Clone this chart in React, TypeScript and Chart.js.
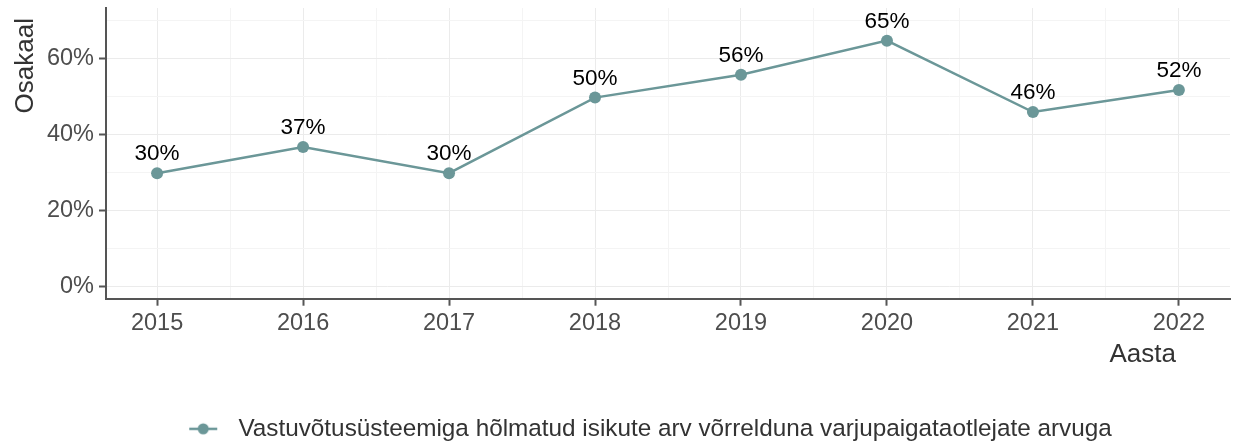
import React, { useEffect, useRef } from 'react';
import { Chart, registerables } from 'chart.js';

Chart.register(...registerables);

const years = [2015, 2016, 2017, 2018, 2019, 2020, 2021, 2022];
const shares = [29.9, 36.8, 29.9, 49.8, 55.8, 64.8, 46.0, 51.8];
const yGridValues = [0, 10, 20, 30, 40, 50, 60, 70];
const yLabelValues = [0, 20, 40, 60];
const seriesLabel = 'Vastuvõtusüsteemiga hõlmatud isikute arv võrrelduna varjupaigataotlejate arvuga';
const xTitle = 'Aasta';
const yTitle = 'Osakaal';

const FONT = "'Liberation Sans', Arial, sans-serif";
const LINE_COLOR = '#6b9798';
const TICK_COLOR = '#4d4d4d';
const AXIS_COLOR = '#555555';
const MAJOR_GRID = '#ebebeb';
const MINOR_GRID = '#f4f4f4';

function makeLegendMarker(): HTMLCanvasElement {
  const c = document.createElement('canvas');
  c.width = 30;
  c.height = 14;
  const g = c.getContext('2d')!;
  g.strokeStyle = LINE_COLOR;
  g.lineWidth = 2.5;
  g.beginPath();
  g.moveTo(1, 7);
  g.lineTo(29, 7);
  g.stroke();
  g.fillStyle = LINE_COLOR;
  g.beginPath();
  g.arc(15, 7, 5.5, 0, Math.PI * 2);
  g.fill();
  return c;
}

export default function App() {
  const ref = useRef<HTMLCanvasElement | null>(null);

  useEffect(() => {
    document.body.style.margin = '0';
    const canvas = ref.current;
    if (!canvas) return;
    const marker = makeLegendMarker();

    const labelsPlugin = {
      id: 'pointLabels',
      afterDatasetsDraw(chart: any) {
        const ctx = chart.ctx;
        const meta = chart.getDatasetMeta(0);
        ctx.save();
        ctx.font = `22.5px ${FONT}`;
        ctx.fillStyle = '#000000';
        ctx.textAlign = 'center';
        ctx.textBaseline = 'alphabetic';
        meta.data.forEach((pt: any, i: number) => {
          ctx.fillText(`${Math.round(shares[i])}%`, pt.x, pt.y - 13);
        });
        ctx.restore();
      },
    };

    const titlesPlugin = {
      id: 'axisTitles',
      afterDraw(chart: any) {
        const ctx = chart.ctx;
        const area = chart.chartArea;
        const xs = chart.scales.x;
        ctx.save();
        ctx.font = `26px ${FONT}`;
        ctx.fillStyle = '#333333';
        ctx.textBaseline = 'alphabetic';
        ctx.textAlign = 'right';
        ctx.fillText(xTitle, xs.getPixelForValue(years[years.length - 1]) - 3, area.bottom + 63);
        ctx.translate(33, area.top + 10);
        ctx.rotate(-Math.PI / 2);
        ctx.textAlign = 'right';
        ctx.fillText(yTitle, 0, 0);
        ctx.restore();
      },
    };

    const legendShift = {
      id: 'legendShift',
      afterLayout(chart: any) {
        const lg = chart.legend;
        if (!lg) return;
        lg.left += 60;
        lg.top += 9;
        lg.bottom += 9;
      },
    };

    const chart = new Chart(canvas, {
      type: 'line',
      data: {
        datasets: [
          {
            label: seriesLabel,
            data: years.map((y, i) => ({ x: y, y: shares[i] })),
            borderColor: LINE_COLOR,
            backgroundColor: LINE_COLOR,
            borderWidth: 2.5,
            pointRadius: 6,
            pointHoverRadius: 6,
            pointBackgroundColor: LINE_COLOR,
            pointBorderWidth: 0,
            tension: 0,
            fill: false,
          },
        ],
      },
      options: {
        responsive: false,
        animation: false,
        events: [],
        layout: { padding: { top: 8, right: 4, left: 0, bottom: 0 } },
        scales: {
          x: {
            type: 'linear',
            min: 2014.65,
            max: 2022.35,
            afterBuildTicks(scale: any) {
              const t: { value: number }[] = [];
              years.forEach((y, i) => {
                t.push({ value: y });
                if (i < years.length - 1) t.push({ value: y + 0.5 });
              });
              scale.ticks = t;
            },
            afterFit(scale: any) {
              scale.height = 109;
              scale.paddingLeft = 0;
              scale.paddingRight = 0;
            },
            ticks: {
              autoSkip: false,
              maxRotation: 0,
              padding: 4,
              color: TICK_COLOR,
              font: { family: FONT, size: 23.5 },
              callback: (v: any) => (Number(v) % 1 === 0 ? String(v) : ''),
            },
            grid: {
              color: (c: any) => (c.tick && c.tick.value % 1 === 0 ? MAJOR_GRID : MINOR_GRID),
              tickColor: (c: any) => (c.tick && c.tick.value % 1 === 0 ? AXIS_COLOR : 'rgba(0,0,0,0)'),
              tickLength: 7,
              tickWidth: 2,
              lineWidth: 1,
            },
            border: { display: true, color: AXIS_COLOR, width: 2 },
          },
          y: {
            type: 'linear',
            min: -3.16,
            max: 73.4,
            afterBuildTicks(scale: any) {
              scale.ticks = yGridValues.map((v) => ({ value: v }));
            },
            afterFit(scale: any) {
              scale.width = 106;
              scale.paddingTop = 0;
              scale.paddingBottom = 0;
            },
            ticks: {
              autoSkip: false,
              padding: 5,
              color: TICK_COLOR,
              font: { family: FONT, size: 23.5 },
              callback: (v: any) => (yLabelValues.includes(Number(v)) ? `${v}%` : ''),
            },
            grid: {
              color: (c: any) => (c.tick && yLabelValues.includes(c.tick.value) ? MAJOR_GRID : MINOR_GRID),
              tickColor: (c: any) => (c.tick && yLabelValues.includes(c.tick.value) ? AXIS_COLOR : 'rgba(0,0,0,0)'),
              tickLength: 7,
              tickWidth: 2,
              lineWidth: 1,
            },
            border: { display: true, color: AXIS_COLOR, width: 2 },
          },
        },
        plugins: {
          legend: {
            display: true,
            position: 'bottom',
            labels: {
              usePointStyle: true,
              pointStyleWidth: 46,
              padding: 0,
              color: '#333333',
              font: { family: FONT, size: 24.3 },
              generateLabels: () => [
                {
                  text: seriesLabel,
                  pointStyle: marker,
                  fillStyle: LINE_COLOR,
                  strokeStyle: LINE_COLOR,
                  lineWidth: 0,
                  hidden: false,
                  datasetIndex: 0,
                  fontColor: '#333333',
                } as any,
              ],
            },
          },
          tooltip: { enabled: false },
        },
      } as any,
      plugins: [labelsPlugin, titlesPlugin, legendShift],
    });

    return () => chart.destroy();
  }, []);

  return (
    <div style={{ width: 1236, height: 442 }}>
      <canvas ref={ref} width={1236} height={442} style={{ display: 'block' }} />
    </div>
  );
}
